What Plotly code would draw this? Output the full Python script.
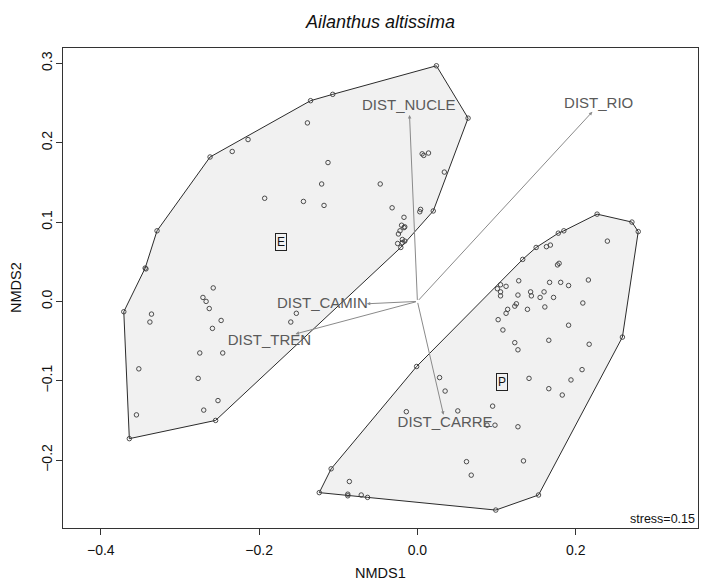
import plotly.graph_objects as go

# ---- data (NMDS scores) ----
e_hull_x = [0.024, 0.064, 0.020, -0.021, -0.255, -0.364, -0.371, -0.344, -0.329, -0.262, -0.135, -0.107]
e_hull_y = [0.297, 0.231, 0.114, 0.068, -0.150, -0.173, -0.013, 0.042, 0.089, 0.182, 0.253, 0.261]

e_pts_x = [-0.139, -0.214, -0.234, -0.113, 0.006, 0.008, 0.014, 0.034, -0.121, -0.047,
           -0.193, -0.144, -0.118, -0.032, 0.004, 0.003, -0.017, -0.020, -0.016, -0.017,
           -0.022, -0.024, -0.019, -0.016, -0.019, -0.025, -0.343, -0.258, -0.271, -0.267,
           -0.263, -0.336, -0.338, -0.248, -0.259, -0.153, -0.160, -0.275, -0.246, -0.352,
           -0.277, -0.252, -0.270, -0.355]
e_pts_y = [0.225, 0.204, 0.189, 0.175, 0.186, 0.184, 0.187, 0.163, 0.148, 0.148,
           0.130, 0.126, 0.121, 0.118, 0.116, 0.113, 0.106, 0.096, 0.094, 0.093,
           0.089, 0.085, 0.078, 0.076, 0.074, 0.073, 0.041, 0.017, 0.005, 0.000,
           -0.009, -0.016, -0.026, -0.024, -0.034, -0.015, -0.026, -0.065, -0.065, -0.085,
           -0.097, -0.125, -0.137, -0.143]

p_hull_x = [0.227, 0.271, 0.279, 0.259, 0.153, 0.099, -0.063, -0.124, -0.109, -0.001, 0.133, 0.150, 0.178, 0.185]
p_hull_y = [0.110, 0.100, 0.088, -0.045, -0.244, -0.263, -0.247, -0.241, -0.211, -0.082, 0.053, 0.068, 0.086, 0.089]

p_pts_x = [0.240, 0.163, 0.168, 0.177, 0.179, 0.128, 0.167, 0.181, 0.191, 0.216,
           0.105, 0.112, 0.101, 0.105, 0.105, 0.143, 0.144, 0.160, 0.155, 0.172,
           0.127, 0.125, 0.123, 0.139, 0.161, 0.209, 0.114, 0.112, 0.102, 0.108,
           0.191, 0.123, 0.127, 0.166, 0.217, 0.208, 0.194, 0.141, 0.166, 0.183,
           0.028, 0.035, 0.095, -0.014, 0.051, 0.088, 0.098, 0.127, 0.062, 0.134,
           0.068, -0.086, -0.088, -0.088, -0.071]
p_pts_y = [0.076, 0.069, 0.071, 0.046, 0.048, 0.026, 0.024, 0.024, 0.020, 0.027,
           0.021, 0.019, 0.016, 0.012, 0.007, 0.012, 0.007, 0.012, 0.005, 0.005,
           0.008, -0.003, -0.006, -0.010, -0.007, -0.002, -0.010, -0.015, -0.023, -0.036,
           -0.030, -0.052, -0.061, -0.049, -0.054, -0.086, -0.099, -0.097, -0.110, -0.118,
           -0.096, -0.113, -0.132, -0.139, -0.138, -0.156, -0.156, -0.158, -0.202, -0.201,
           -0.219, -0.227, -0.243, -0.245, -0.244]

group_labels = ["E", "P"]
group_label_x = [-0.172, 0.107]
group_label_y = [0.075, -0.101]

vec_names = ["DIST_RIO", "DIST_NUCLE", "DIST_CAMIN", "DIST_TREN", "DIST_CARRE"]
vec_x = [0.221, -0.010, -0.064, -0.154, 0.033]
vec_y = [0.239, 0.235, -0.003, -0.041, -0.143]
vec_label_x = [0.229, -0.011, -0.120, -0.187, 0.035]
vec_label_y = [0.249, 0.246, -0.004, -0.050, -0.153]

x_ticks = [-0.4, -0.2, 0.0, 0.2]
x_ticktext = ["\u22120.4", "\u22120.2", "0.0", "0.2"]
y_ticks = [-0.2, -0.1, 0.0, 0.1, 0.2, 0.3]
y_ticktext = ["\u22120.2", "\u22120.1", "0.0", "0.1", "0.2", "0.3"]

stress_text = "stress=0.15"
title_text = "Ailanthus altissima"

# ---- figure ----
FONT = "Liberation Sans, Arial, sans-serif"
fig = go.Figure()

hull_line = dict(color="#2b2b2b", width=1)
for hx, hy in [(e_hull_x, e_hull_y), (p_hull_x, p_hull_y)]:
    fig.add_trace(go.Scatter(x=hx + hx[:1], y=hy + hy[:1], mode="lines", fill="toself",
                             fillcolor="#f1f1f1", line=hull_line, hoverinfo="skip",
                             showlegend=False))

marker = dict(symbol="circle-open", size=4.5, color="#3a3a3a", line=dict(width=0.9, color="#3a3a3a"))
for px, py in [(e_hull_x, e_hull_y), (e_pts_x, e_pts_y), (p_hull_x, p_hull_y), (p_pts_x, p_pts_y)]:
    fig.add_trace(go.Scatter(x=px, y=py, mode="markers", marker=marker, showlegend=False))

# vector labels
fig.add_trace(go.Scatter(x=vec_label_x, y=vec_label_y, mode="text", text=vec_names,
                         textfont=dict(family=FONT, size=15, color="#5a5a5a"),
                         textposition="middle center", showlegend=False, hoverinfo="skip"))

annotations = []
for vx, vy in zip(vec_x, vec_y):
    annotations.append(dict(x=vx, y=vy, ax=0.0, ay=0.0, xref="x", yref="y", axref="x", ayref="y",
                            showarrow=True, arrowhead=2, arrowsize=0.7, arrowwidth=1,
                            arrowcolor="#8a8a8a", text=""))
for gl, gx, gy in zip(group_labels, group_label_x, group_label_y):
    annotations.append(dict(x=gx, y=gy, xref="x", yref="y", text=gl, showarrow=False,
                            font=dict(family=FONT, size=12, color="#111"),
                            bordercolor="#222", borderwidth=1, borderpad=1, bgcolor="#f1f1f1"))
annotations.append(dict(x=1, y=0, xref="paper", yref="paper", xanchor="right", yanchor="bottom",
                        text=stress_text, showarrow=False, xshift=-1, yshift=0,
                        font=dict(family=FONT, size=12.5, color="#111")))
annotations.append(dict(x=0.5, y=0, xref="paper", yref="paper", xanchor="center", yanchor="middle",
                        yshift=-45, text="NMDS1", showarrow=False,
                        font=dict(family=FONT, size=14.5, color="#111")))
annotations.append(dict(x=0, y=0.5, xref="paper", yref="paper", xanchor="center", yanchor="middle",
                        xshift=-47, text="NMDS2", textangle=-90, showarrow=False,
                        font=dict(family=FONT, size=14.5, color="#111")))

axis_common = dict(showgrid=False, zeroline=False, showline=True, mirror=True,
                   linecolor="#333", linewidth=1, ticks="outside", ticklen=6,
                   tickcolor="#333", tickwidth=1, automargin=False,
                   tickfont=dict(family=FONT, size=14, color="#111"))

fig.update_layout(
    width=701, height=582,
    margin=dict(l=63, r=3, t=48, b=54),
    paper_bgcolor="white", plot_bgcolor="white",
    title=dict(text=title_text, x=(63 + 698) / 2 / 701, xanchor="center",
               y=1 - 21.5 / 582, yanchor="middle",
               font=dict(family=FONT, size=18, color="#111", style="italic")),
    xaxis=dict(range=[-0.4478, 0.3545], tickvals=x_ticks, ticktext=x_ticktext,
               ticklabelstandoff=3, **axis_common),
    yaxis=dict(range=[-0.2856, 0.3194], tickvals=y_ticks, ticktext=y_ticktext,
               tickangle=-90, ticklabelstandoff=-2, **axis_common),
    annotations=annotations,
)

fig.write_html("out.html", config={"displayModeBar": False},
               post_script="document.body.style.margin='0';document.body.style.padding='0';")
